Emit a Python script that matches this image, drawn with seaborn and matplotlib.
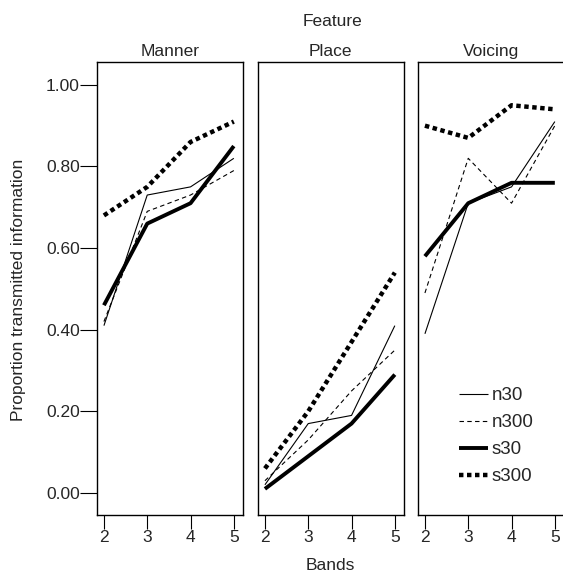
import matplotlib
matplotlib.use("Agg")
import matplotlib.pyplot as plt
import pandas as pd
import seaborn as sns

bands = [2, 3, 4, 5]
features = ["Manner", "Place", "Voicing"]
conditions = ["n30", "n300", "s30", "s300"]

manner_n30 = [0.41, 0.73, 0.75, 0.82]
manner_n300 = [0.42, 0.69, 0.73, 0.79]
manner_s30 = [0.46, 0.66, 0.71, 0.85]
manner_s300 = [0.68, 0.75, 0.86, 0.91]

place_n30 = [0.02, 0.17, 0.19, 0.41]
place_n300 = [0.03, 0.13, 0.25, 0.35]
place_s30 = [0.01, 0.09, 0.17, 0.29]
place_s300 = [0.06, 0.20, 0.37, 0.54]

voicing_n30 = [0.39, 0.71, 0.75, 0.91]
voicing_n300 = [0.49, 0.82, 0.71, 0.90]
voicing_s30 = [0.58, 0.71, 0.76, 0.76]
voicing_s300 = [0.90, 0.87, 0.95, 0.94]

values = {
    "Manner": [manner_n30, manner_n300, manner_s30, manner_s300],
    "Place": [place_n30, place_n300, place_s30, place_s300],
    "Voicing": [voicing_n30, voicing_n300, voicing_s30, voicing_s300],
}

rows = []
for f in features:
    for c, ys in zip(conditions, values[f]):
        for b, y in zip(bands, ys):
            rows.append({"Feature": f, "Cond": c, "Bands": b, "Prop": y})
df = pd.DataFrame(rows)

# line look for each condition
styles = {
    "n30": dict(lw=0.8, dashes=None),
    "n300": dict(lw=0.8, dashes=(4, 3)),
    "s30": dict(lw=2.8, dashes=None),
    "s300": dict(lw=3.2, dashes=(1.0, 0.8)),
}

sns.set_style("white")
plt.rcParams["font.family"] = ["Liberation Sans", "DejaVu Sans"]
plt.rcParams["font.size"] = 12.5

fig = plt.figure(figsize=(5.63, 5.8), dpi=100)
lefts = [97 / 563, 258 / 563, 418 / 563]
width = 145.5 / 563
bottom, top = 1 - 515 / 580, 1 - 62 / 580
axes = []
for i, f in enumerate(features):
    ax = fig.add_axes([lefts[i], bottom, width, top - bottom])
    axes.append(ax)
    sub = df[df["Feature"] == f]
    for c in conditions:
        d = sub[sub["Cond"] == c]
        st = styles[c]
        sns.lineplot(data=d, x="Bands", y="Prop", ax=ax, color="black",
                     lw=st["lw"], label=c, legend=False)
        ln = ax.lines[-1]
        if st["dashes"] is not None:
            ln.set_dashes(st["dashes"])
        ln.set_solid_capstyle("butt")
        ln.set_dash_capstyle("butt")
    ax.set_xlim(1.84, 5.2)
    ax.set_ylim(-0.054, 1.056)
    ax.set_xticks(bands)
    ax.set_title(f, fontsize=12.5, pad=4)
    ax.set_xlabel("")
    ax.set_ylabel("")
    for s in ax.spines.values():
        s.set_color("black")
        s.set_linewidth(1.0)
    ax.tick_params(axis="x", direction="out", length=10, width=0.8, color="black",
                   bottom=True, pad=1, labelsize=12.5)
    if i == 0:
        ax.set_yticks([0, 0.2, 0.4, 0.6, 0.8, 1.0])
        ax.set_yticklabels(["0.00", "0.20", "0.40", "0.60", "0.80", "1.00"])
        ax.tick_params(axis="y", direction="out", length=12, width=0.8, color="black",
                       left=True, pad=0.5, labelsize=12.5)
    else:
        ax.set_yticks([])

handles = axes[2].lines[:4]
axes[2].legend(handles, conditions, frameon=False, loc="upper left",
               bbox_to_anchor=(459 / 563, 1 - 387 / 580),
               bbox_transform=fig.transFigure, borderpad=0, borderaxespad=0,
               handlelength=1.55, handletextpad=0.2,
               labelspacing=0.53, fontsize=13.5)

fig.text(333 / 563, 1 - 21 / 580, "Feature", ha="center", va="center", fontsize=12.5)
fig.text(330 / 563, 1 - 565 / 580, "Bands", ha="center", va="center", fontsize=12.5)
fig.text(19 / 563, 0.5, "Proportion transmitted information", ha="center",
         va="center", rotation=90, fontsize=12.5)

fig.savefig("out.png", dpi=100)
